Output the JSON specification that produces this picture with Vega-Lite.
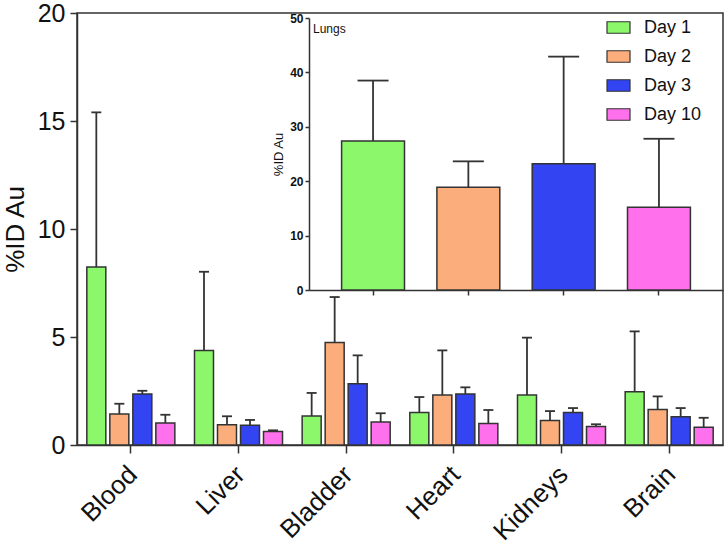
{
  "$schema": "https://vega.github.io/schema/vega-lite/v6.json",
  "width": 646,
  "height": 432,
  "autosize": {"type": "none"},
  "padding": {"left": 77, "top": 13, "right": 4, "bottom": 102},
  "background": "white",
  "config": {
    "font": "Liberation Sans",
    "view": {"stroke": "#333333", "strokeWidth": 1.5},
    "axis": {"grid": false, "domainColor": "#333333", "tickColor": "#333333", "labelColor": "#111111", "titleColor": "#111111", "domainWidth": 1.5, "tickWidth": 1.5, "labelFont": "Liberation Sans", "titleFont": "Liberation Sans"}
  },
  "datasets": {
    "organs": [
      {"organ": "Blood", "day": "Day 1", "value": 8.24, "hi": 15.4},
      {"organ": "Blood", "day": "Day 2", "value": 1.43, "hi": 1.91},
      {"organ": "Blood", "day": "Day 3", "value": 2.36, "hi": 2.51},
      {"organ": "Blood", "day": "Day 10", "value": 1.02, "hi": 1.40},
      {"organ": "Liver", "day": "Day 1", "value": 4.37, "hi": 8.02},
      {"organ": "Liver", "day": "Day 2", "value": 0.94, "hi": 1.33},
      {"organ": "Liver", "day": "Day 3", "value": 0.91, "hi": 1.16},
      {"organ": "Liver", "day": "Day 10", "value": 0.62, "hi": 0.68},
      {"organ": "Bladder", "day": "Day 1", "value": 1.34, "hi": 2.41},
      {"organ": "Bladder", "day": "Day 2", "value": 4.75, "hi": 6.85},
      {"organ": "Bladder", "day": "Day 3", "value": 2.84, "hi": 4.15},
      {"organ": "Bladder", "day": "Day 10", "value": 1.06, "hi": 1.47},
      {"organ": "Heart", "day": "Day 1", "value": 1.51, "hi": 2.22},
      {"organ": "Heart", "day": "Day 2", "value": 2.31, "hi": 4.38},
      {"organ": "Heart", "day": "Day 3", "value": 2.36, "hi": 2.67},
      {"organ": "Heart", "day": "Day 10", "value": 0.99, "hi": 1.62},
      {"organ": "Kidneys", "day": "Day 1", "value": 2.31, "hi": 4.97},
      {"organ": "Kidneys", "day": "Day 2", "value": 1.14, "hi": 1.57},
      {"organ": "Kidneys", "day": "Day 3", "value": 1.50, "hi": 1.71},
      {"organ": "Kidneys", "day": "Day 10", "value": 0.86, "hi": 0.96},
      {"organ": "Brain", "day": "Day 1", "value": 2.47, "hi": 5.26},
      {"organ": "Brain", "day": "Day 2", "value": 1.64, "hi": 2.25},
      {"organ": "Brain", "day": "Day 3", "value": 1.31, "hi": 1.71},
      {"organ": "Brain", "day": "Day 10", "value": 0.82, "hi": 1.26}
    ],
    "lungs": [
      {"day": "Day 1", "value": 27.4, "hi": 38.5},
      {"day": "Day 2", "value": 18.9, "hi": 23.65},
      {"day": "Day 3", "value": 23.2, "hi": 42.9},
      {"day": "Day 10", "value": 15.2, "hi": 27.8}
    ],
    "lungsLabel": [
      {"day": "Day 1", "y": 48, "label": "Lungs"}
    ]
  },
  "layer": [
    {
      "data": {"name": "organs"},
      "encoding": {
        "x": {
          "field": "organ", "type": "nominal",
          "sort": ["Blood", "Liver", "Bladder", "Heart", "Kidneys", "Brain"],
          "scale": {"paddingInner": 0, "paddingOuter": 0},
          "axis": {"title": null, "labelAngle": -45, "labelFontSize": 26, "tickSize": 8, "labelPadding": 8, "labelOffset": -7}
        },
        "xOffset": {
          "field": "day", "type": "nominal",
          "sort": ["Day 1", "Day 2", "Day 3", "Day 10"],
          "scale": {"paddingInner": 0.174, "paddingOuter": 0.427}
        }
      },
      "layer": [
        {
          "mark": {"type": "bar", "stroke": "#333333", "strokeWidth": 1.5},
          "encoding": {
            "y": {
              "field": "value", "type": "quantitative", "title": "%ID Au",
              "scale": {"domain": [0, 20], "nice": false},
              "axis": {"orient": "left", "values": [0, 5, 10, 15, 20], "labelFontSize": 25, "tickSize": 7, "labelPadding": 5, "titleFontSize": 26, "titleFontWeight": "normal", "titlePadding": 9}
            },
            "color": {
              "field": "day", "type": "nominal",
              "scale": {"domain": ["Day 1", "Day 2", "Day 3", "Day 10"], "range": ["#8cf76a", "#fbad7c", "#3344f2", "#ff70ec"]},
              "legend": {"title": null, "orient": "none", "legendX": 529, "legendY": 2, "symbolType": "M-1,-0.5H1V0.5H-1Z", "symbolSize": 529, "symbolStrokeColor": "#333333", "symbolStrokeWidth": 1.2, "labelFontSize": 18, "labelOffset": 13, "rowPadding": 7, "padding": 0, "labelColor": "#111111", "symbolOpacity": 1}
            }
          }
        },
        {
          "mark": {"type": "rule", "color": "#333333", "strokeWidth": 1.8},
          "encoding": {"y": {"field": "value", "type": "quantitative", "title": "%ID Au"}, "y2": {"field": "hi"}}
        },
        {
          "mark": {"type": "tick", "color": "#333333", "thickness": 1.8, "size": 10, "opacity": 1},
          "encoding": {"y": {"field": "hi", "type": "quantitative", "title": "%ID Au"}}
        }
      ]
    },
    {
      "encoding": {
        "x": {
          "field": "day", "type": "nominal",
          "sort": ["Day 1", "Day 2", "Day 3", "Day 10"],
          "scale": {"range": [232, 646], "paddingInner": 0.34, "paddingOuter": 0.342},
          "axis": {"orient": "bottom", "offset": -155, "labels": false, "title": null, "tickSize": 5}
        }
      },
      "layer": [
        {
          "data": {"name": "lungs"},
          "mark": {"type": "bar", "stroke": "#333333", "strokeWidth": 1.5},
          "encoding": {
            "y": {
              "field": "value", "type": "quantitative", "title": "%ID Au",
              "scale": {"domain": [0, 50], "range": [277, 5], "nice": false},
              "axis": {"orient": "left", "offset": -232, "values": [0, 10, 20, 30, 40, 50], "labelFontSize": 12, "labelFontWeight": "bold", "tickSize": 4, "labelPadding": 2, "titleFontSize": 13, "titleFontWeight": "normal", "titlePadding": 4}
            },
            "color": {"field": "day", "type": "nominal"}
          }
        },
        {
          "data": {"name": "lungs"},
          "mark": {"type": "rule", "color": "#333333", "strokeWidth": 1.8},
          "encoding": {"y": {"field": "value", "type": "quantitative", "title": "%ID Au"}, "y2": {"field": "hi"}}
        },
        {
          "data": {"name": "lungs"},
          "mark": {"type": "tick", "color": "#333333", "thickness": 1.8, "size": 31, "opacity": 1},
          "encoding": {"y": {"field": "hi", "type": "quantitative", "title": "%ID Au"}}
        },
        {
          "data": {"name": "lungsLabel"},
          "mark": {"type": "text", "align": "left", "baseline": "middle", "fontSize": 12, "dx": -28.6, "color": "#111111"},
          "encoding": {
            "x": {"field": "day", "type": "nominal", "bandPosition": 0},
            "y": {"field": "y", "type": "quantitative", "title": "%ID Au"},
            "text": {"field": "label"}
          }
        }
      ]
    }
  ],
  "resolve": {
    "scale": {"x": "independent", "y": "independent", "xOffset": "independent"},
    "axis": {"x": "independent", "y": "independent"}
  }
}
